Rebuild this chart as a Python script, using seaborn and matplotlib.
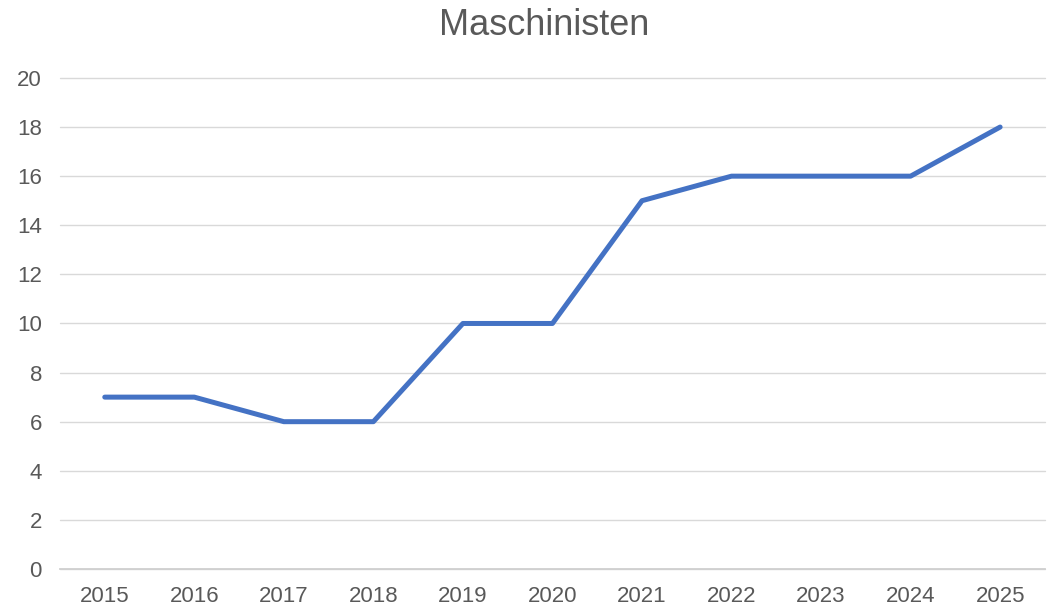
import matplotlib
matplotlib.use('Agg')
import matplotlib.pyplot as plt
import seaborn as sns
import pandas as pd

years = ['2015', '2016', '2017', '2018', '2019', '2020', '2021', '2022', '2023', '2024', '2025']
values = [7, 7, 6, 6, 10, 10, 15, 16, 16, 16, 18]

df = pd.DataFrame({'year': years, 'count': values})

sns.set_style('white')
plt.rcParams['font.family'] = ['Liberation Sans', 'DejaVu Sans']

fig = plt.figure(figsize=(10.47, 6.09), dpi=100)
ax = fig.add_axes([0.0573, 0.0657, 0.9407, 0.8063])

ax.set_ylim(0, 20)
ax.set_yticks(range(0, 21, 2))
ax.grid(axis='y', color='#D9D9D9', linewidth=1)
ax.set_axisbelow(True)
for gl in ax.get_ygridlines():
    gl.set_clip_on(False)

sns.lineplot(data=df, x='year', y='count', ax=ax, color='#4472C4', linewidth=3.6,
             sort=False, solid_capstyle='round', solid_joinstyle='round')
ax.set_xlim(-0.5, len(years) - 0.5)

for s in ax.spines.values():
    s.set_visible(False)
ax.spines['bottom'].set_visible(True)
ax.spines['bottom'].set_color('#D0D0D0')
ax.spines['bottom'].set_linewidth(1.3)
ax.tick_params(axis='both', length=0, labelsize=16, labelcolor='#595959')
ax.tick_params(axis='y', pad=13)
ax.tick_params(axis='x', pad=12)
ax.set_xlabel('')
ax.set_ylabel('')
fig.text(0.52, 0.958, 'Maschinisten', ha='center', va='center', fontsize=26, color='#595959')

plt.savefig('out.png', dpi=100)
